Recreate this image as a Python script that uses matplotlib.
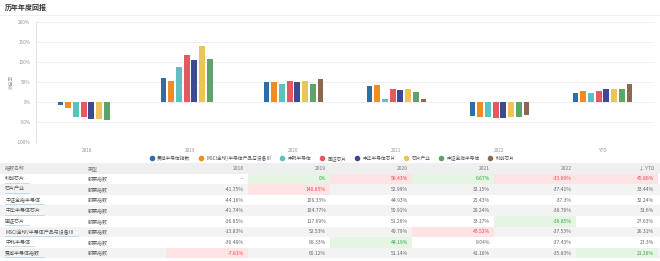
import numpy as np
import matplotlib
matplotlib.use("Agg")
import matplotlib.pyplot as plt
from matplotlib.patches import Rectangle
from matplotlib.lines import Line2D

plt.rcParams['font.family'] = ['Noto Sans CJK SC', 'DejaVu Sans']

# ---- data ----
periods = ['2018', '2019', '2020', '2021', '2022', 'YTD']
# legend / bar order
series_names = ['费城半导体指数', 'MSCI全球/半导体产品与设备Ⅲ', '中韩半导体', '国证芯片',
                '中华半导体芯片', '芯片产业', '中证全指半导体', '科创芯片']
colors = ['#2f6ea5', '#f28b22', '#5dc1c0', '#e05a5f', '#3d4b8e', '#ecc55a', '#5ea36c', '#8a6a4e']

# table order (sorted by YTD)
table_names = ['科创芯片', '芯片产业', '中证全指半导体', '中华半导体芯片', '国证芯片',
               'MSCI全球/半导体产品与设备Ⅲ', '中韩半导体', '费城半导体指数']
kechuang = [None, 0.0, 58.43, 6.67, -33.69, 45.86]
xinpian = [-41.75, 140.85, 52.99, 32.15, -37.41, 33.44]
zhongzheng = [-44.16, 106.33, 44.93, 25.43, -37.3, 32.24]
zhonghua = [-41.74, 104.77, 50.91, 29.24, -38.76, 31.6]
guozheng = [-36.85, 117.69, 51.26, 33.17, -38.85, 27.63]
msci = [-13.83, 52.53, 49.79, 43.52, -37.53, 26.31]
zhonghan = [-36.48, 88.33, 44.19, 8.04, -37.43, 23.3]
feicheng = [-7.81, 60.12, 51.14, 41.16, -35.83, 21.26]
table_vals = [kechuang, xinpian, zhongzheng, zhonghua, guozheng, msci, zhonghan, feicheng]
series_vals = dict(zip(table_names, table_vals))
min_highlight = [False, True, True, True, True, True]

W, H = 660, 261
fig = plt.figure(figsize=(W / 100, H / 100), dpi=100)
fig.patch.set_facecolor('white')

# ---- bar chart ----
ax = fig.add_axes([36 / W, 1 - 142 / H, 618 / W, 120 / H])
x = np.arange(len(periods))
slot = 0.075
bw = 0.056
for i, (name, c) in enumerate(zip(series_names, colors)):
    v = np.array([np.nan if a is None else a for a in series_vals[name]])
    ax.bar(x + (i - 3.5) * slot, v, width=bw, color=c, zorder=3)

ax.set_xlim(-0.5, len(periods) - 0.5)
ax.set_ylim(-100, 200)
yt = np.arange(-100, 201, 50)
ax.set_yticks(yt)
ax.set_yticklabels([f'{t}%' for t in yt], fontsize=3.4, color='#999999')
ax.set_xticks(x)
ax.set_xticklabels(periods, fontsize=3.4, color='#999999')
ax.tick_params(length=0, pad=4)
ax.grid(axis='y', color='#eeeeee', lw=0.6, zorder=0)
for s in ['top', 'right', 'bottom']:
    ax.spines[s].set_visible(False)
ax.spines['left'].set_color('#dddddd')
ax.spines['left'].set_linewidth(0.6)
ax.set_ylabel('收益率', fontsize=3.4, color='#999999', labelpad=2)

handles = [Line2D([], [], marker='o', ls='', color=c, markersize=3) for c in colors]
fig.legend(handles, series_names, loc='center', bbox_to_anchor=(331 / W, 1 - 158 / H),
           ncol=8, fontsize=3.4, frameon=False, handletextpad=0.2, columnspacing=1.2,
           labelcolor='#555555')

# ---- title + table overlay ----
t = fig.add_axes([0, 0, 1, 1], zorder=5)
t.set_xlim(0, W)
t.set_ylim(H, 0)
t.axis('off')
t.patch.set_alpha(0)

t.text(5, 7, '历年年度回报', fontsize=5, fontweight='bold', color='#333333', va='center')
t.plot([0, W], [15, 15], color='#eeeeee', lw=0.6)

col_edges = [0, 83, 166, 248, 330, 412, 494, 576, 658]
top = 163
rh = 10.6
fs = 3.6

# header
t.add_patch(Rectangle((0, top), W, rh, color='#efefef', lw=0))
header = ['指数名称', '类型'] + periods[:-1] + ['↓ YTD']
for j, h in enumerate(header):
    if j < 2:
        t.text(col_edges[j] + 5, top + rh / 2, h, fontsize=fs, color='#777777', va='center')
    else:
        t.text(col_edges[j + 1] - 4, top + rh / 2, h, fontsize=fs, color='#777777',
               va='center', ha='right')

def fmt(v):
    if v is None:
        return '--'
    s = f'{v:.2f}'.rstrip('0').rstrip('.')
    if s == '-0':
        s = '0'
    return s + '%'

cols = list(zip(*table_vals))
name_texts = []
for r, (name, vals) in enumerate(zip(table_names, table_vals)):
    y0 = top + rh * (r + 1)
    if r % 2 == 1:
        t.add_patch(Rectangle((0, y0), W, rh, color='#f3f3f3', lw=0))
    yc = y0 + rh / 2
    tx = t.text(5, yc, name, fontsize=fs, color='#555555', va='center')
    name_texts.append((tx, yc))
    t.text(col_edges[1] + 5, yc, '股票指数', fontsize=fs, color='#666666', va='center')
    for j, v in enumerate(vals):
        cv = [a for a in cols[j] if a is not None]
        color = '#666666'
        if v is not None and v == max(cv):
            t.add_patch(Rectangle((col_edges[j + 2], y0), col_edges[j + 3] - col_edges[j + 2],
                                  rh, color='#fde3e3', lw=0))
            color = '#e8494f'
        elif v is not None and min_highlight[j] and v == min(cv):
            t.add_patch(Rectangle((col_edges[j + 2], y0), col_edges[j + 3] - col_edges[j + 2],
                                  rh, color='#e5f5e3', lw=0))
            color = '#3fa33f'
        t.text(col_edges[j + 3] - 4, yc, fmt(v), fontsize=fs, color=color,
               va='center', ha='right')

# underline the index names
fig.canvas.draw()
inv = t.transData.inverted()
for tx, yc in name_texts:
    bb = tx.get_window_extent()
    (x0, _), (x1, _) = inv.transform([[bb.x0, bb.y0], [bb.x1, bb.y1]])
    t.plot([x0, x1 + 4], [yc + 3.8, yc + 3.8], color='#a9cde8', lw=0.5)

fig.savefig('out.png', dpi=100)
